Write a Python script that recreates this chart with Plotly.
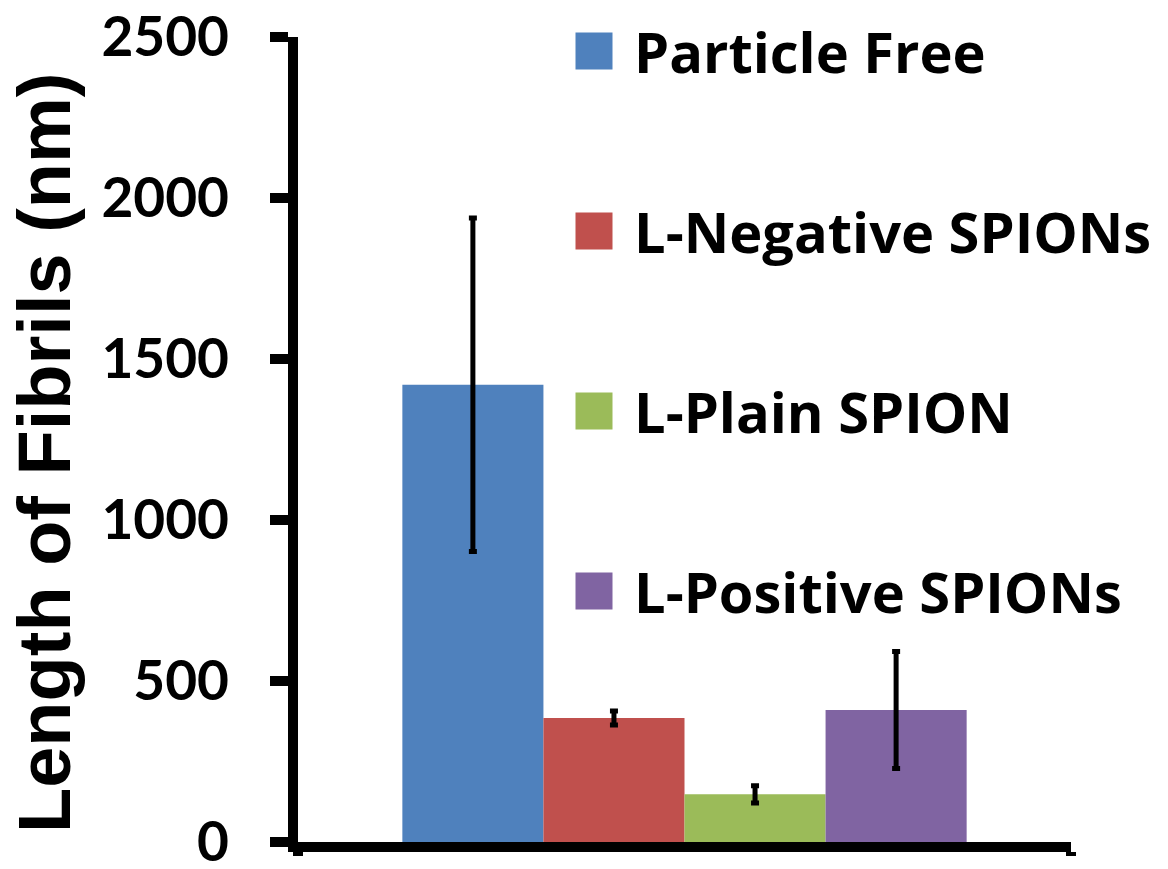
import plotly.graph_objects as go

# Fibril length per treatment (nm), mean and error
groups = ["Particle Free", "L-Negative SPIONs", "L-Plain SPION", "L-Positive SPIONs"]
lengths = [1420, 385, 148, 410]
errors = [518, 22, 27, 182]
colors = ["#4F81BD", "#C0504D", "#9BBB59", "#8064A2"]

y_ticks = [0, 500, 1000, 1500, 2000, 2500]

W, H = 1168, 869
ML, MR, MT, MB = 298, 97, 37, 27
PW, PH = W - ML - MR, H - MT - MB


def px_x(px):
    return (px - ML) / PW


def px_y(py):
    return (H - MB - py) / PH


fig = go.Figure()
for name, val, err, col in zip(groups, lengths, errors, colors):
    fig.add_trace(go.Bar(
        x=[""], y=[val], name=name,
        marker=dict(color=col, line=dict(width=0)),
        error_y=dict(type="data", array=[err], color="black", thickness=5, width=4),
        showlegend=False,
    ))

# Legend drawn as large swatches with labels
leg_x, leg_y0, leg_step, sw = 594, 51, 180, 37
shapes, annotations = [], []
for i, (name, col) in enumerate(zip(groups, colors)):
    cy = leg_y0 + i * leg_step
    shapes.append(dict(
        type="rect", xref="paper", yref="paper",
        xsizemode="pixel", ysizemode="pixel",
        xanchor=px_x(leg_x), yanchor=px_y(cy),
        x0=-sw / 2, x1=sw / 2, y0=-sw / 2, y1=sw / 2,
        fillcolor=col, line=dict(width=0),
    ))
    annotations.append(dict(
        x=px_x(leg_x + 38), y=px_y(cy), xref="paper", yref="paper",
        text=name, showarrow=False, xanchor="left", yanchor="middle",
        font=dict(family="Open Sans", size=56, color="black", weight="bold"),
    ))

# Y-axis title
annotations.append(dict(
    x=px_x(44), y=px_y(453), xref="paper", yref="paper",
    text="Length of Fibrils (nm)", textangle=-90, showarrow=False,
    xanchor="center", yanchor="middle",
    font=dict(family="Liberation Sans", size=74, color="black", weight="bold"),
))

fig.update_layout(
    width=W, height=H,
    margin=dict(l=ML, r=MR, t=MT, b=MB, pad=0),
    paper_bgcolor="white", plot_bgcolor="white",
    barmode="group", bargap=0.27, bargroupgap=0,
    shapes=shapes, annotations=annotations,
    xaxis=dict(
        showline=True, linecolor="black", linewidth=10,
        ticks="outside", tickson="boundaries", ticklen=4, tickwidth=10,
        tickcolor="black", showticklabels=False, showgrid=False, zeroline=False,
        automargin=False,
    ),
    yaxis=dict(
        range=[0, 2500], tickvals=y_ticks,
        showline=True, linecolor="black", linewidth=10,
        ticks="outside", ticklen=18, tickwidth=10, tickcolor="black",
        tickfont=dict(family="Lato", size=55, color="black", weight="bold"),
        ticklabelstandoff=30, ticklabeloverflow="allow",
        showgrid=False, zeroline=False, automargin=False,
    ),
)

fig.write_html("out.html")
